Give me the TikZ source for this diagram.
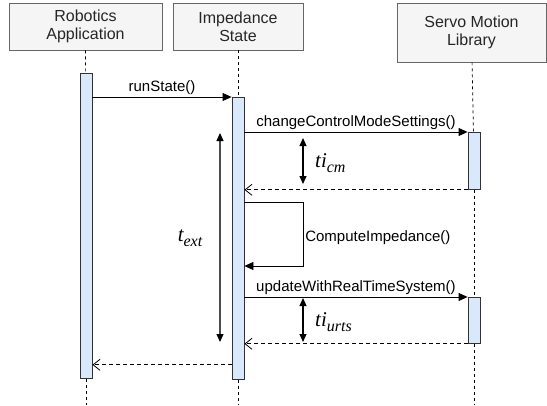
\documentclass[tikz,border=0pt]{standalone}
\usepackage{fontspec}
\setmainfont{Liberation Sans}
\newfontfamily\timesfont{Liberation Serif}
\usepackage{tikz}
\usetikzlibrary{arrows.meta,positioning,calc}

\definecolor{boxgray}{HTML}{F5F5F5}
\definecolor{boxline}{HTML}{666666}
\definecolor{barblue}{HTML}{DAE8FC}

% timing label: italic name with a lowered index
\newcommand{\tvar}[2]{{\timesfont\itshape\fontsize{21}{21}\selectfont #1\raisebox{-0.45ex}{\fontsize{16}{16}\selectfont #2}}}

\begin{document}
\begin{tikzpicture}[x=1pt, y=-1pt,
  actor/.style={rectangle, draw=boxline, fill=boxgray, line width=0.8pt, inner sep=0pt, align=center, font=\fontsize{16}{18}\selectfont, text=black!85},
  bar/.style={rectangle, draw=black!80, fill=barblue, line width=0.8pt, minimum width=12pt, inner sep=0pt, anchor=north},
  lifeline/.style={line width=0.7pt, dash pattern=on 3pt off 3pt},
  msg/.style={font=\fontsize{15}{17}\selectfont, inner sep=1.5pt},
  call/.style={line width=0.8pt, -{Triangle[length=9pt, width=8pt]}},
  ret/.style={line width=0.8pt, dash pattern=on 4pt off 3pt, -{Straight Barb[length=7pt, width=11pt]}},
  span/.style={line width=1.2pt, {Triangle[length=8pt, width=7pt]}-{Triangle[length=8pt, width=7pt]}}
]
  \useasboundingbox (0,0) rectangle (547,405);

  % participants
  \node[actor, minimum width=153pt, minimum height=47pt] (ra) at (85.5,26.5) {Robotics\\Application};
  \node[actor, minimum width=130pt, minimum height=47pt] (is) at (238,26.5) {Impedance\\State};
  \node[actor, minimum width=149pt, minimum height=59pt] (sm) at (471.5,32.5) {Servo Motion\\Library};

  % activation bars
  \node[bar, minimum height=305pt] (ra-bar) at (86,73) {};
  \node[bar, minimum height=282pt] (is-bar) at (238,97) {};
  \node[bar, minimum height=57pt] (sm-bar1) at (474,132) {};
  \node[bar, minimum height=46pt] (sm-bar2) at (474,297) {};

  \coordinate (ra-end) at (86,405);
  \coordinate (is-end) at (238,405);
  \coordinate (sm-end) at (474,405);

  % lifelines
  \draw[lifeline] (ra) -- (ra-bar);
  \draw[lifeline] (ra-bar) -- (ra-end);
  \draw[lifeline] (is) -- (is-bar);
  \draw[lifeline] (is-bar) -- (is-end);
  \draw[lifeline] (sm) -- (sm-bar1);
  \draw[lifeline] (sm-bar1) -- (sm-bar2);
  \draw[lifeline] (sm-bar2) -- (sm-end);

  % messages
  \draw[call] ([yshift=-24pt]ra-bar.north east) -- node[msg, above] {runState()} (is-bar.north west);
  \draw[call] (is-bar.east |- sm-bar1.north west) -- node[msg, above] {changeControlModeSettings()} (sm-bar1.north west);
  \draw[ret] (sm-bar1.south west) -- (is-bar.east |- sm-bar1.south west);

  \coordinate (loop) at ([yshift=-105pt]is-bar.north east);
  \draw[call] (loop) -- ++(59,0) |- node[msg, pos=0.28, right] {ComputeImpedance()} ([yshift=-64pt]loop);

  \draw[call] (is-bar.east |- sm-bar2.north west) -- node[msg, above] {updateWithRealTimeSystem()} (sm-bar2.north west);
  \draw[ret] (sm-bar2.south west) -- (is-bar.east |- sm-bar2.south west);

  \coordinate (back) at ([yshift=15pt]is-bar.south west);
  \draw[ret] (back) -- (ra-bar.east |- back);

  % timing spans
  \coordinate (ext-top) at (220,133);
  \coordinate (ext-bot) at (220,342);
  \draw[span, draw=black!70, {Triangle[length=8pt, width=7pt, color=black]}-{Triangle[length=8pt, width=7pt, color=black]}] (ext-top) -- (ext-bot);
  \node (t-ext) at (190,238) {\tvar{t}{ext}};

  \coordinate (cm-top) at (303,138);
  \coordinate (cm-bot) at (303,184);
  \draw[span] (cm-top) -- (cm-bot);
  \node[anchor=west, inner sep=0pt] (t-cm) at (315,163) {\tvar{ti}{cm}};

  \coordinate (urts-top) at (303,298);
  \coordinate (urts-bot) at (303,342);
  \draw[span] (urts-top) -- (urts-bot);
  \node[anchor=west, inner sep=0pt] (t-urts) at (315,322) {\tvar{ti}{urts}};
\end{tikzpicture}
\end{document}
